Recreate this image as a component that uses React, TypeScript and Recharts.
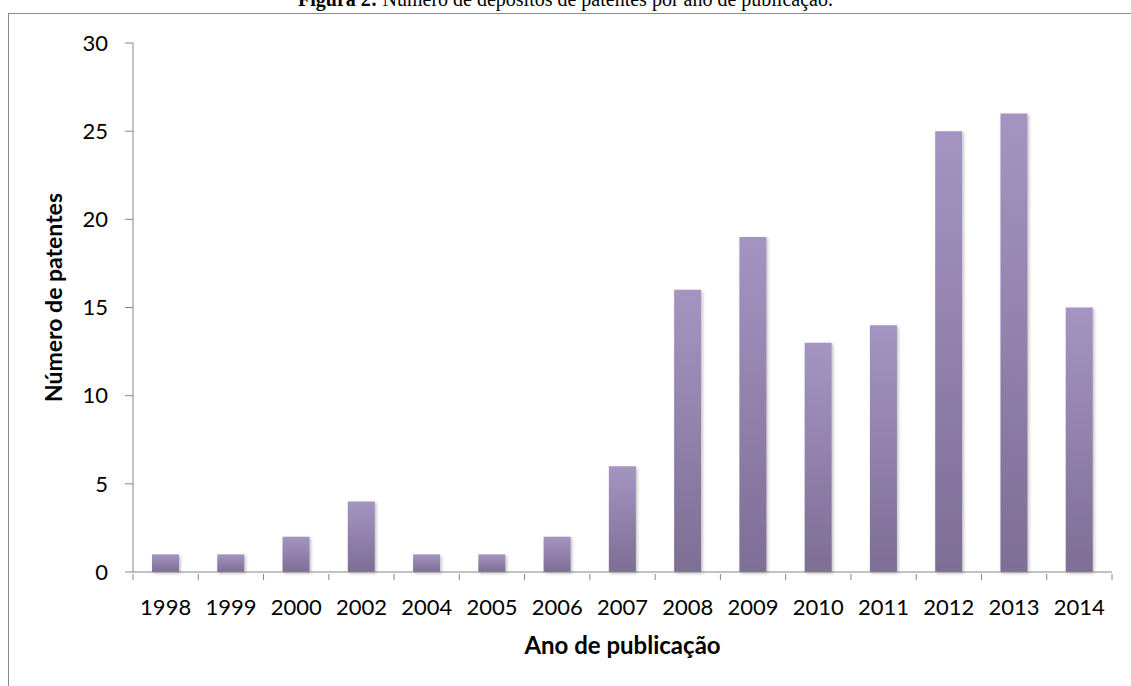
import React from 'react'
import { BarChart, Bar, XAxis, YAxis } from 'recharts'

const anos = ['1998', '1999', '2000', '2002', '2004', '2005', '2006', '2007', '2008', '2009', '2010', '2011', '2012', '2013', '2014']
const patentes = [1, 1, 2, 4, 1, 1, 2, 6, 16, 19, 13, 14, 25, 26, 15]
const yTicks = [0, 5, 10, 15, 20, 25, 30]

const data = anos.map((ano, i) => ({ ano, patentes: patentes[i] }))

const AXIS = '#868686'
const TICK_FONT = 'Lato, "Noto Sans", sans-serif'

// category ticks sit between bars, so draw the tick line at the band edge
function XTick(props: any) {
  const { x, y, payload, index } = props
  const half = payload?.offset ?? 979 / anos.length / 2
  const axisY = y - 6
  return (
    <g>
      <line x1={x - half} y1={axisY} x2={x - half} y2={axisY + 6} stroke={AXIS} />
      {index === anos.length - 1 && (
        <line x1={x + half} y1={axisY} x2={x + half} y2={axisY + 6} stroke={AXIS} />
      )}
      <text x={x} y={axisY + 41} textAnchor="middle" fontFamily={TICK_FONT} fontSize={22} fill="#000">
        {payload.value}
      </text>
    </g>
  )
}

function XTitle(props: any) {
  const { viewBox } = props
  return (
    <text x={viewBox.x + viewBox.width / 2} y={654} textAnchor="middle"
      fontFamily={TICK_FONT} fontWeight="bold" fontSize={24} fill="#000">
      Ano de publicação
    </text>
  )
}

function YTitle(props: any) {
  const { viewBox } = props
  const cy = viewBox.y + viewBox.height / 2 - 10
  return (
    <text x={62} y={cy} transform={`rotate(-90 62 ${cy})`} textAnchor="middle"
      fontFamily={TICK_FONT} fontWeight="bold" fontSize={23} fill="#000">
      Número de patentes
    </text>
  )
}

export default function App() {
  return (
    <div style={{ position: 'absolute', left: 0, top: 0, width: 1131, height: 686, background: '#fff', overflow: 'hidden' }}>
      <div style={{
        position: 'absolute', left: 8, top: 13, width: 1200, height: 800,
        borderLeft: '1px solid #8a8a8a', borderTop: '1px solid #8a8a8a',
      }} />
      <div style={{
        position: 'absolute', left: 0, top: -11, width: 1131, textAlign: 'center',
        fontFamily: '"Liberation Serif", "Times New Roman", serif', fontSize: 20, lineHeight: '20px', color: '#000',
      }}>
        <b>Figura 2:</b> Número de depósitos de patentes por ano de publicação.
      </div>
      <BarChart
        width={1131}
        height={686}
        data={data}
        margin={{ top: 43, right: 19, bottom: 24, left: 0 }}
        style={{ position: 'absolute', left: 0, top: 0 }}
      >
        <defs>
          <linearGradient id="barFill" x1="0" y1="0" x2="0" y2="1">
            <stop offset="0%" stopColor="#a494c1" />
            <stop offset="100%" stopColor="#7e6e95" />
          </linearGradient>
          <filter id="barShadow" x="-30%" y="-10%" width="160%" height="130%">
            <feDropShadow dx="1.5" dy="1.5" stdDeviation="1.8" floodColor="#000" floodOpacity="0.25" />
          </filter>
        </defs>
        <XAxis
          dataKey="ano"
          height={90}
          interval={0}
          axisLine={{ stroke: AXIS }}
          tickLine={false}
          tickSize={6}
          tick={<XTick />}
          label={<XTitle />}
        />
        <YAxis
          width={133}
          domain={[0, 30]}
          ticks={yTicks}
          interval={0}
          axisLine={{ stroke: AXIS }}
          tickLine={{ stroke: AXIS }}
          tickSize={8}
          tickMargin={17}
          tick={{ fontFamily: TICK_FONT, fontSize: 22, fill: '#000' }}
          label={<YTitle />}
        />
        <Bar
          dataKey="patentes"
          fill="url(#barFill)"
          barSize={27}
          filter="url(#barShadow)"
          isAnimationActive={false}
        />
      </BarChart>
    </div>
  )
}
